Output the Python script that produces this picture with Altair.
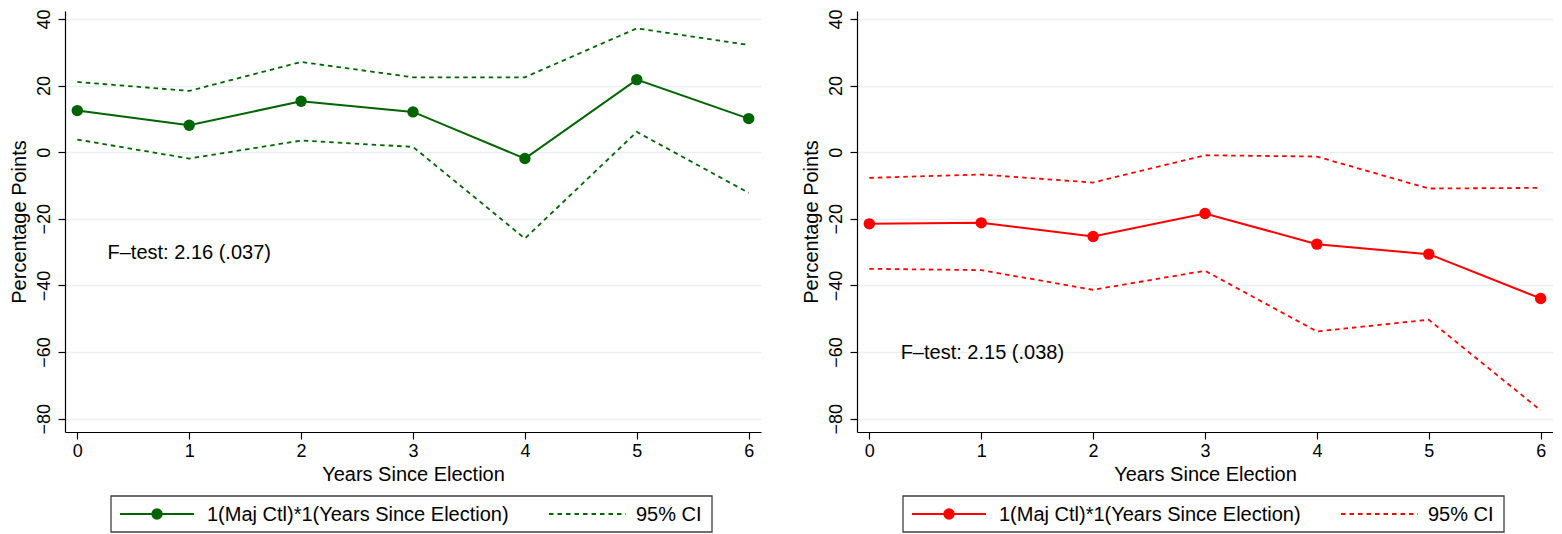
import altair as alt
import pandas as pd

# ---- data ----
years = [0, 1, 2, 3, 4, 5, 6]
left_est = [12.5, 8.1, 15.3, 12.1, -1.9, 21.8, 10.1]
left_hi = [21.1, 18.4, 27.1, 22.5, 22.5, 37.2, 32.2]
left_lo = [3.8, -1.9, 3.5, 1.6, -25.9, 6.1, -12.2]
right_est = [-21.5, -21.2, -25.3, -18.4, -27.6, -30.6, -43.9]
right_hi = [-7.7, -6.7, -9.1, -0.9, -1.3, -10.9, -10.7]
right_lo = [-35.0, -35.4, -41.3, -35.6, -53.8, -50.3, -77.5]
y_ticks = [-80, -60, -40, -20, 0, 20, 40]
series_label = "1(Maj Ctl)*1(Years Since Election)"
ci_label = "95% CI"
ftest_left = "F\u2013test: 2.16 (.037)"
ftest_right = "F\u2013test: 2.15 (.038)"
ftest_pos_left = (0.27, -32.2)
ftest_pos_right = (0.28, -62.2)
x_title = "Years Since Election"
y_title = "Percentage Points"

GREEN = "#006400"
RED = "#ff0000"
FONT = "Liberation Sans"
W, H = 696, 421
XDOM = [-0.11, 6.11]
YDOM = [-84, 42.4]


def panel(est, lo, hi, color, ftxt, fpos):
    df_est = pd.DataFrame({"year": years, "value": est})
    df_ci = pd.DataFrame({
        "year": years + years,
        "value": hi + lo,
        "bound": ["hi"] * len(years) + ["lo"] * len(years),
    })
    x = alt.X("year:Q", scale=alt.Scale(domain=XDOM, nice=False, zero=False),
              axis=alt.Axis(values=years, format="d", title=x_title,
                            labelFontSize=18, titleFontSize=20, tickSize=7,
                            labelPadding=3, titlePadding=4, grid=False))
    y = alt.Y("value:Q", scale=alt.Scale(domain=YDOM, nice=False, zero=False),
              axis=alt.Axis(values=y_ticks, title=y_title, labelAngle=270,
                            labelAlign="center", labelBaseline="bottom",
                            labelFontSize=18, titleFontSize=20, tickSize=7,
                            labelPadding=5, titlePadding=6, grid=True,
                            gridColor="#e8f0f2", gridWidth=1.5))
    ci = alt.Chart(df_ci).mark_line(color=color, strokeWidth=1.8,
                                    strokeDash=[4.5, 4]).encode(x=x, y=y, detail="bound:N")
    line = alt.Chart(df_est).mark_line(color=color, strokeWidth=2).encode(x=x, y=y)
    pts = alt.Chart(df_est).mark_circle(color=color, size=130, opacity=1).encode(x=x, y=y)
    ftdf = pd.DataFrame({"year": [fpos[0]], "value": [fpos[1]], "t": [ftxt]})
    ft = alt.Chart(ftdf).mark_text(align="left", baseline="alphabetic", fontSize=20,
                                   font=FONT, color="#000").encode(x=x, y=y, text="t:N")

    # legend box drawn below the plot area
    one = pd.DataFrame({"a": [0]})
    ly = 503
    box = alt.Chart(one).mark_rect(fill="white", stroke="#404040", strokeWidth=1.3).encode(
        x=alt.value(46), x2=alt.value(647), y=alt.value(485), y2=alt.value(521))
    lg_line = alt.Chart(one).mark_rule(color=color, strokeWidth=2).encode(
        x=alt.value(55), x2=alt.value(129), y=alt.value(ly))
    lg_pt = alt.Chart(one).mark_circle(color=color, size=130, opacity=1).encode(
        x=alt.value(92), y=alt.value(ly))
    lg_dash = alt.Chart(one).mark_rule(color=color, strokeWidth=1.8, strokeDash=[4.5, 4]).encode(
        x=alt.value(484), x2=alt.value(561), y=alt.value(ly))
    lg_t1 = alt.Chart(one).mark_text(align="left", baseline="middle", fontSize=20, font=FONT,
                                     color="#000").encode(
        x=alt.value(142), y=alt.value(ly + 1), text=alt.value(series_label))
    lg_t2 = alt.Chart(one).mark_text(align="left", baseline="middle", fontSize=20, font=FONT,
                                     color="#000").encode(
        x=alt.value(571), y=alt.value(ly + 1), text=alt.value(ci_label))

    return alt.layer(ci, line, pts, ft, box, lg_line, lg_pt, lg_dash, lg_t1, lg_t2).properties(
        width=W, height=H)


left = panel(left_est, left_lo, left_hi, GREEN, ftest_left, ftest_pos_left)
right = panel(right_est, right_lo, right_hi, RED, ftest_right, ftest_pos_right)

chart = alt.hconcat(left, right, spacing=40).properties(
    padding={"left": 1, "top": 0, "right": 0, "bottom": 0}
).configure_view(stroke=None).configure_axis(
    domainColor="#000", tickColor="#000", labelColor="#000", titleColor="#000",
    labelFont=FONT, titleFont=FONT, titleFontWeight="normal", domainWidth=1.2,
    tickWidth=1.2
)

chart.save("out.html", embed_options={"renderer": "svg", "actions": False})
